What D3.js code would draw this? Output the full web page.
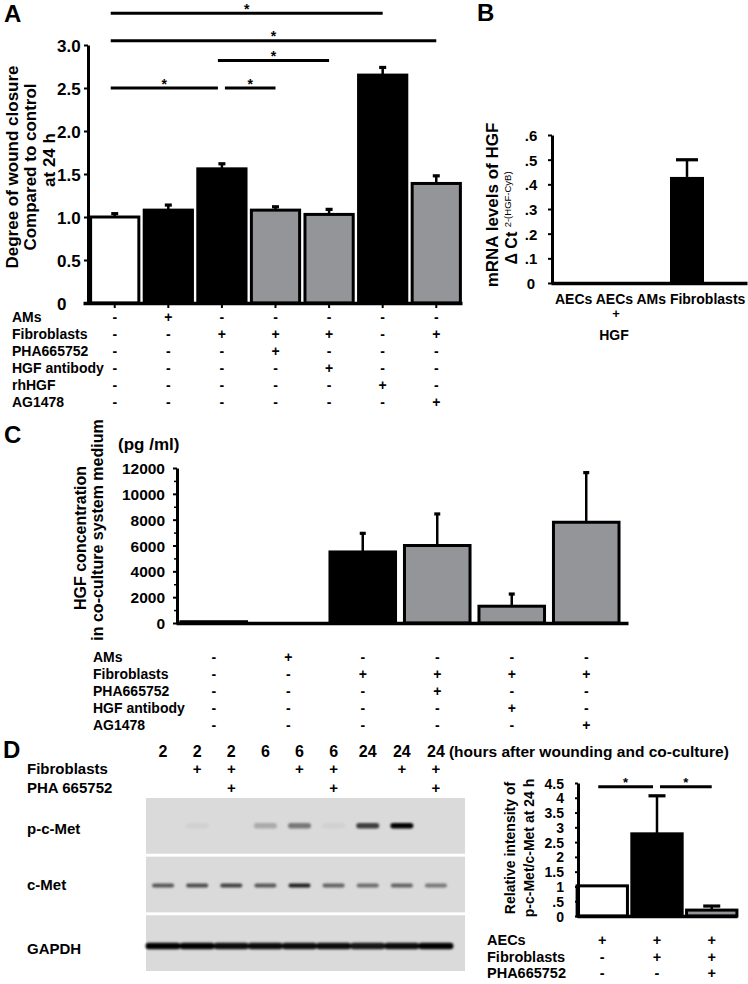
<!DOCTYPE html>
<html><head><meta charset="utf-8">
<script src="https://cdn.jsdelivr.net/npm/d3@7"></script>
<style>
body{margin:0;background:#fff;}
svg{display:block;}
</style></head><body>
<svg id="fig" width="748" height="984"></svg>
<script>
// ---------------- DATA ----------------
// Panel A: wound closure
const catsA = ["Control","AMs","Fibroblasts","Fibroblasts+PHA665752","Fibroblasts+HGF antibody","rhHGF","Fibroblasts+AG1478"];
const meansA = [1.00, 1.08, 1.56, 1.08, 1.03, 2.65, 1.39];
const errTopA = [1.04, 1.14, 1.62, 1.12, 1.09, 2.74, 1.48];
const groupA = ["control","positive","positive","inhibitor","inhibitor","positive","inhibitor"];
const ticksA = [0, 0.5, 1.0, 1.5, 2.0, 2.5, 3.0];
const rowLabelsA = ["AMs","Fibroblasts","PHA665752","HGF antibody","rhHGF","AG1478"];
const condA = [
  ["-","+","-","-","-","-","-"],
  ["-","-","+","+","+","-","+"],
  ["-","-","-","+","-","-","-"],
  ["-","-","-","-","+","-","-"],
  ["-","-","-","-","-","+","-"],
  ["-","-","-","-","-","-","+"]
];
const sigA = [[0,5,3.37],[0,6,3.05],[2,4,2.82],[0,2,2.5],[2,3,2.5]];

// Panel B: mRNA levels
const catsB = ["AECs","AECs + HGF","AMs","Fibroblasts"];
const meansB = [0, 0, 0, 0.43];
const errTopB = [null, null, null, 0.50];
const ticksB = [0, 0.1, 0.2, 0.3, 0.4, 0.5, 0.6];

// Panel C: HGF concentration
const catsC = ["Control","AMs","Fibroblasts","Fibroblasts+PHA665752","Fibroblasts+HGF antibody","Fibroblasts+AG1478"];
const meansC = [100, 0, 5500, 6000, 1300, 7800];
const errTopC = [null, null, 6950, 8450, 2250, 11650];
const groupC = ["control","control","positive","inhibitor","inhibitor","inhibitor"];
const ticksC = [0, 2000, 4000, 6000, 8000, 10000, 12000];
const rowLabelsC = ["AMs","Fibroblasts","PHA665752","HGF antibody","AG1478"];
const condC = [
  ["-","+","-","-","-","-"],
  ["-","-","+","+","+","+"],
  ["-","-","-","+","-","-"],
  ["-","-","-","-","+","-"],
  ["-","-","-","-","-","+"]
];

// Panel D: western blot
const laneHours = [2,2,2,6,6,6,24,24,24];
const laneFib = ["","+","+","","+","+","","+","+"];
const lanePHA = ["","","+","","","+","","","+"];
const blotRows = ["p-c-Met","c-Met","GAPDH"];
const bandPcMet = [0.0, 0.04, 0.0, 0.22, 0.45, 0.04, 0.72, 1.0, 0.0];
const bandCMet = [0.6, 0.65, 0.7, 0.6, 0.85, 0.55, 0.5, 0.55, 0.45];
const bandGAPDH = [1.0, 1.0, 0.95, 0.95, 0.95, 0.95, 0.9, 0.95, 1.0];

// Panel D: quantification
const catsD = ["AECs","AECs+Fibroblasts","AECs+Fibroblasts+PHA665752"];
const meansD = [1.02, 2.78, 0.20];
const errTopD = [null, 4.07, 0.34];
const groupD = ["control","positive","inhibitor"];
const ticksD = [0, 0.5, 1, 1.5, 2, 2.5, 3, 3.5, 4, 4.5];
const rowLabelsD = ["AECs","Fibroblasts","PHA665752"];
const condD = [
  ["+","+","+"],
  ["-","+","+"],
  ["-","-","+"]
];
const sigD = [[0,1,4.37],[1,2,4.37]];

// ---------------- DRAWING ----------------
const FONT = '"Liberation Sans", Arial, Helvetica, sans-serif';
const svg = d3.select("#fig");
svg.append("rect").attr("width",748).attr("height",984).attr("fill","#fff");
const FILL = d3.scaleOrdinal().domain(["control","positive","inhibitor"]).range(["#ffffff","#000000","#939598"]);

function txt(x, y, s, fs, anchor) {
  return svg.append("text").attr("x", x).attr("y", y).text(s)
    .attr("font-family", FONT).attr("font-weight", "bold").attr("font-size", fs)
    .attr("text-anchor", anchor || "start").attr("fill", "#000");
}
function vtxt(x, y, s, fs) {
  return svg.append("text").attr("transform", `translate(${x},${y}) rotate(-90)`)
    .attr("dy", "0.35em").text(s)
    .attr("font-family", FONT).attr("font-weight", "bold").attr("font-size", fs)
    .attr("text-anchor", "middle").attr("fill", "#000");
}
function yAxis(scale, x, ticks, fmt, o) {
  const g = svg.append("g").attr("transform", `translate(${x},0)`)
    .call(d3.axisLeft(scale).tickValues(ticks).tickFormat(fmt).tickSize(o.tickSize || 4).tickSizeOuter(0));
  g.attr("font-family", FONT).attr("font-size", o.fs).attr("font-weight", "bold").attr("text-anchor", o.anchor);
  g.select(".domain").attr("stroke", "#000").attr("stroke-width", 3);
  g.selectAll(".tick line").attr("stroke", "#000").attr("stroke-width", 2);
  g.selectAll(".tick text").attr("x", o.labelX).attr("fill", "#000").attr("dy", "0.36em");
  if (o.minor) {
    const m = svg.append("g").attr("transform", `translate(${x},0)`)
      .call(d3.axisLeft(scale).tickValues(o.minor).tickFormat("").tickSize(3).tickSizeOuter(0));
    m.select(".domain").remove();
    m.selectAll("line").attr("stroke", "#000").attr("stroke-width", 1.5);
  }
  return g;
}
function xLine(x0, x1, y) {
  const s = d3.scaleLinear().range([x0, x1]);
  const g = svg.append("g").attr("transform", `translate(0,${y})`)
    .call(d3.axisBottom(s).tickValues([]).tickSizeOuter(0));
  g.select(".domain").attr("stroke", "#000").attr("stroke-width", 3.5);
}
function bars(xs, ys, cats, means, groups, errs, capW, sw) {
  const g = svg.append("g");
  cats.forEach((c, i) => {
    if (errs[i] == null) return;
    const cx = xs(c) + xs.bandwidth() / 2;
    g.append("line").attr("x1", cx).attr("x2", cx).attr("y1", ys(means[i])).attr("y2", ys(errs[i]))
      .attr("stroke", "#000").attr("stroke-width", 2.5);
    g.append("rect").attr("x", cx - capW / 2).attr("y", ys(errs[i]) - 1.5).attr("width", capW).attr("height", 3.2).attr("fill", "#000");
  });
  g.selectAll("rect.bar").data(cats).join("rect").attr("class", "bar")
    .attr("x", c => xs(c)).attr("width", xs.bandwidth())
    .attr("y", (c, i) => ys(means[i])).attr("height", (c, i) => ys(0) - ys(means[i]))
    .attr("fill", (c, i) => FILL(groups[i])).attr("stroke", "#000").attr("stroke-width", sw);
}
function sigLines(xs, ys, cats, sig, fs) {
  const cx = i => xs(cats[i]) + xs.bandwidth() / 2;
  sig.forEach(([a, b, lv]) => {
    const startsAtEnd = sig.some(s => s[1] === a && s[2] === lv);
    const endsAtStart = sig.some(s => s[0] === b && s[2] === lv);
    const x1 = cx(a) + (startsAtEnd ? 3 : -4);
    const x2 = cx(b) + (endsAtStart ? -4 : 0);
    svg.append("line").attr("x1", x1).attr("x2", x2).attr("y1", ys(lv)).attr("y2", ys(lv))
      .attr("stroke", "#000").attr("stroke-width", 3);
    txt((x1 + x2) / 2, ys(lv) + 0.5, "*", fs, "middle");
  });
}
function condTable(xs, cats, rows, cond, rowY, labelX, fs) {
  rows.forEach((r, ri) => {
    txt(labelX, rowY(r), r, fs).attr("dy", "0.35em");
    cats.forEach((c, ci) => {
      txt(xs(c) + xs.bandwidth() / 2, rowY(r), cond[ri][ci], fs, "middle").attr("dy", "0.35em");
    });
  });
}

// ---------- Panel A ----------
txt(4, 22, "A", 24);
const yA = d3.scaleLinear().domain([0, 3]).range([303, 45]);
const xA = d3.scaleBand().domain(catsA).range([89, 462]).paddingInner(0.1).paddingOuter(0.03);
bars(xA, yA, catsA, meansA, groupA, errTopA, 7, 3);
yAxis(yA, 88, ticksA, d => d === 0 ? "0" : d3.format(".1f")(d), {fs: 17, anchor: "start", labelX: -31, tickSize: 4});
xLine(83, 462, 303);
svg.append("g").selectAll("line").data(catsA).join("line")
  .attr("x1", c => xA(c) + xA.bandwidth() / 2).attr("x2", c => xA(c) + xA.bandwidth() / 2)
  .attr("y1", 304).attr("y2", 308).attr("stroke", "#000").attr("stroke-width", 2);
sigLines(xA, yA, catsA, sigA, 14);
vtxt(12, 167, "Degree of wound closure", 17);
vtxt(30, 167, "Compared  to control", 17);
vtxt(49, 160, "at 24 h", 17);
const rowA = d3.scalePoint().domain(rowLabelsA).range([317, 402]);
condTable(xA, catsA, rowLabelsA, condA, rowA, 12, 14);

// ---------- Panel B ----------
txt(477, 21, "B", 24);
const yB = d3.scaleLinear().domain([0, 0.6]).range([283, 135]);
const xB = d3.scaleBand().domain(catsB).range([548, 706]).paddingInner(0.15).paddingOuter(0.05);
bars(xB, yB, catsB, meansB, ["positive","positive","positive","positive"], errTopB, 22, 0);
yAxis(yB, 552, ticksB, d => d === 0 ? "0" : "." + Math.round(d * 10), {fs: 15, anchor: "middle", labelX: -21, tickSize: 4});
xLine(551, 747, 283);
vtxt(492, 205, "mRNA levels of HGF", 17);
const bt = svg.append("text").attr("transform", "translate(511,218) rotate(-90)").attr("dy", "0.35em")
  .attr("font-family", FONT).attr("font-weight", "bold").attr("text-anchor", "middle").attr("fill", "#000");
bt.append("tspan").attr("font-size", 16).text("\u0394 Ct ");
bt.append("tspan").attr("font-size", 9.5).attr("dy", -6).attr("font-weight", "normal").text("2-(HGF-CyB)");
txt(555, 304, catsB.map(c => c.split(" ")[0]).join(" "), 14);
txt(616, 318, "+", 13, "middle");
txt(614, 340, "HGF", 14, "middle");

// ---------- Panel C ----------
txt(4, 443, "C", 24);
txt(118, 450, "(pg /ml)", 17);
const yC = d3.scaleLinear().domain([0, 12000]).range([623, 468]);
const xC = d3.scaleBand().domain(catsC).range([178, 622]).paddingInner(0.12).paddingOuter(0.04);
bars(xC, yC, catsC, meansC, groupC, errTopC, 6, 3);
yAxis(yC, 177, ticksC, d => String(d), {fs: 15.5, anchor: "end", labelX: -12, tickSize: 4, minor: d3.range(1000, 12000, 2000)});
xLine(176, 628, 623);
vtxt(80, 538, "HGF concentration", 16);
vtxt(97, 530, "in co-culture system medium", 16);
const rowC = d3.scalePoint().domain(rowLabelsC).range([657, 725]);
condTable(xC, catsC, rowLabelsC, condC, rowC, 93, 14);

// ---------- Panel D: blot ----------
txt(3, 758, "D", 24);
const lanes = d3.range(laneHours.length);
const xL = d3.scaleBand().domain(lanes).range([146, 453]);
const lc = i => xL(i) + xL.bandwidth() / 2;
lanes.forEach(i => {
  txt(lc(i), 757, String(laneHours[i]), 16, "middle");
  txt(lc(i), 769, laneFib[i], 15, "middle").attr("dy", "0.35em");
  txt(lc(i), 788, lanePHA[i], 15, "middle").attr("dy", "0.35em");
});
txt(lc(lanes.length - 1) + 13, 757, "(hours after wounding and co-culture)", 15.5);
txt(27, 769, "Fibroblasts", 15).attr("dy", "0.35em");
txt(27, 788, "PHA 665752", 15).attr("dy", "0.35em");
const defs = svg.append("defs");
defs.append("filter").attr("id", "blur").attr("x", "-20%").attr("y", "-100%").attr("width", "140%").attr("height", "300%")
  .append("feGaussianBlur").attr("stdDeviation", 1.1);
const yStrip = d3.scaleBand().domain(blotRows).range([798, 971]).paddingInner(0.05);
svg.append("g").selectAll("rect").data(blotRows).join("rect")
  .attr("x", 146).attr("width", 319).attr("y", r => yStrip(r)).attr("height", yStrip.bandwidth())
  .attr("fill", "#dadada");
const labY = {"p-c-Met": 0.55, "c-Met": 0.5, "GAPDH": 0.6};
blotRows.forEach(r => txt(27, yStrip(r) + yStrip.bandwidth() * labY[r], r, 15).attr("dy", "0.35em"));
const bandSpecs = [
  {row: "p-c-Met", vals: bandPcMet, w: 23, h: 5.5, off: 0.5},
  {row: "c-Met", vals: bandCMet, w: 22, h: 4, off: 0.52},
  {row: "GAPDH", vals: bandGAPDH, w: 35, h: 6.5, off: 0.55}
];
const bandG = svg.append("g").attr("filter", "url(#blur)");
bandSpecs.forEach(s => {
  lanes.forEach(i => {
    if (s.vals[i] <= 0) return;
    bandG.append("rect").attr("x", lc(i) - s.w / 2).attr("width", s.w)
      .attr("y", yStrip(s.row) + yStrip.bandwidth() * s.off - s.h / 2).attr("height", s.h)
      .attr("rx", s.h / 2).attr("fill", "#000").attr("opacity", s.vals[i]);
  });
});

// ---------- Panel D: quantification ----------
const yD = d3.scaleLinear().domain([0, 4.5]).range([916, 783]);
const xD = d3.scaleBand().domain(catsD).range([576, 738]).paddingInner(0.08).paddingOuter(0.02);
bars(xD, yD, catsD, meansD, groupD, errTopD, 17, 3);
yAxis(yD, 578, ticksD, d => d === 0 ? "0" : (d < 1 ? ".5" : String(d)), {fs: 14, anchor: "end", labelX: -14, tickSize: 3});
xLine(577, 737, 916);
sigLines(xD, yD, catsD, sigD, 13);
vtxt(510, 848, "Relative intensity of", 14);
vtxt(529, 848, "p-c-Met/c-Met  at 24 h", 14);
const rowD = d3.scalePoint().domain(rowLabelsD).range([940, 973]);
condTable(xD, catsD, rowLabelsD, condD, rowD, 487, 14.5);
</script>
</body></html>
